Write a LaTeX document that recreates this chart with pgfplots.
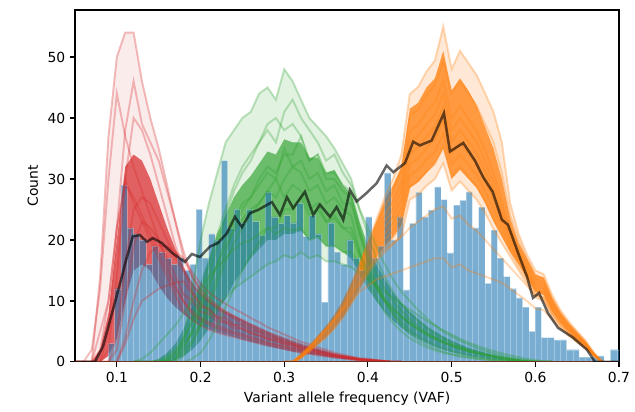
\documentclass[border=0pt]{standalone}
\usepackage{fontspec}
\setmainfont{DejaVu Sans}
\usepackage{pgfplots}
\usepackage{pgfplotstable}
\usepgfplotslibrary{fillbetween}
\pgfplotsset{compat=1.18}

\definecolor{tabred}{HTML}{D62728}
\definecolor{tabgreen}{HTML}{2CA02C}
\definecolor{taborange}{HTML}{FF7F0E}
\definecolor{tabblue}{HTML}{1F77B4}
\definecolor{zeroline}{RGB}{110,50,30}

% histogram: left bin edges and counts
\pgfplotstableread{
x h
0.08975 3
0.09725 12
0.10475 29
0.11225 22
0.11975 21
0.12725 20
0.13475 16
0.14225 19
0.14975 18
0.15725 17
0.16475 16
0.17225 17
0.17975 15
0.18725 16
0.19475 25
0.20225 17
0.20975 21
0.21725 20
0.22475 33
0.23225 22
0.23975 25
0.24725 22.8
0.25475 25
0.26225 23
0.26975 20.8
0.27725 27.9
0.28475 23.8
0.29225 22.7
0.29975 24
0.30725 22.8
0.31475 26
0.32225 20.6
0.32975 24
0.33725 21
0.34475 9.8
0.35225 22.8
0.35975 18
0.36725 16
0.37475 20
0.38225 17
0.38975 15
0.39725 23.8
0.40475 17
0.41225 19
0.41975 31
0.42725 20
0.43475 23.8
0.44225 11.8
0.44975 22.7
0.45725 27.8
0.46475 23.8
0.47225 24.9
0.47975 28.7
0.48725 26.6
0.49475 17.9
0.50225 25.7
0.50975 26.5
0.51725 27.9
0.52475 22
0.53225 25.4
0.53975 12.9
0.54725 21.6
0.55475 17
0.56225 14
0.56975 12
0.57725 10.5
0.58475 9
0.59225 5
0.59975 9
0.60725 4
0.61475 4
0.62225 3.6
0.62975 3.6
0.63725 2
0.64475 2
0.65225 0.8
0.65975 0.8
0.66725 0.8
0.67475 1
0.68225 0
0.68975 2
0.69725 2
0.70475 0
}\histtab

% low-VAF component draws (lo/hi: dense core)
\pgfplotstableread{
x r1 r2 r3 r4 r5 r6 r7 r8 r9 r10 lo hi
0.05 0 0 0 0 0 0 0 0 0 0 0 0
0.06 0 0 0 0 0 0 0 0 0 0 0 0
0.07 0 2 0 0 0 0 0 0 0 0 0 0
0.08 14 12 0 0 5 0 0 0 2 0 0 2
0.09 37 30 5 2 10 0 0 0 10 0 1 8
0.10 50 44 22 14 22 4 2 0 22 0 4 20
0.11 54 37 38 30 30 16 10 4 29 3 10 32
0.12 54 32 46 40 26 25 19 10 27 7 15 34
0.13 46 28 39 38 23 27 23 15 24 10 16 33
0.14 40 24 36 34 20 26 22 18 21 11 15 30
0.15 35 20 33 29 17 23 20 19 18 12 12.5 26
0.16 29 16 28 24 14 20 17 19 15 12.5 10.5 22
0.17 23 12.5 23 19 11 17 14 18 12 13 9 18.5
0.18 17 10 18 15 8.1 15 11 17 9.8 13.2 7.8 15.5
0.19 14 7.8 14 11.5 6.9 12.7 10.1 14.7 8.3 11.2 6.8 13
0.20 12 6.8 11.5 9.6 6.0 11.1 8.2 12.8 7.2 9.0 6 11.2
0.21 10.5 6.1 10 8.4 5.3 9.9 7.9 11.4 6.5 8.8 5.4 10
0.22 9.3 5.5 8.8 7.2 4.8 9.0 6.6 10.4 5.9 7.3 4.9 9
0.23 8.3 5.0 7.9 6.6 4.4 8.2 6.5 9.5 5.4 7.2 4.5 8.2
0.24 7.5 4.6 7.1 6.0 4.1 7.5 5.5 8.7 4.9 6.1 4.1 7.5
0.25 6.7 4.2 6.3 5.4 3.7 6.9 5.5 8.0 4.5 6.0 3.7 6.9
0.26 6.0 3.8 5.6 4.8 3.4 6.2 4.6 7.2 4.1 5.1 3.3 6.2
0.27 5.3 3.4 5.0 4.3 3.0 5.6 4.4 6.5 3.7 4.9 3 5.6
0.28 4.7 3.0 4.4 3.8 2.7 4.9 3.7 5.7 3.2 4.0 2.6 5
0.29 4.1 2.7 3.9 3.4 2.4 4.4 3.5 5.1 2.9 3.8 2.3 4.4
0.30 3.6 2.4 3.4 3.0 2.1 3.9 2.9 4.5 2.6 3.2 2 3.9
0.31 3.1 2.1 2.9 2.6 1.8 3.4 2.7 3.9 2.2 3.0 1.7 3.4
0.32 2.6 1.8 2.5 2.2 1.5 2.9 2.1 3.3 1.9 2.3 1.5 2.9
0.33 2.3 1.5 2.1 1.9 1.3 2.5 2.0 2.9 1.6 2.2 1.3 2.5
0.34 1.9 1.3 1.8 1.6 1.1 2.1 1.5 2.4 1.4 1.7 1.1 2.1
0.35 1.6 1.0 1.4 1.3 0.9 1.7 1.3 2.0 1.1 1.5 0.9 1.7
0.36 1.2 0.8 1.1 1.0 0.7 1.3 1.0 1.5 0.9 1.1 0.7 1.3
0.37 1.0 0.6 0.9 0.8 0.6 1.0 0.8 1.2 0.7 0.9 0.5 1
0.38 0.7 0.5 0.7 0.6 0.4 0.8 0.6 0.9 0.5 0.6 0.4 0.8
0.39 0.5 0.3 0.4 0.4 0.3 0.5 0.4 0.6 0.3 0.5 0.25 0.55
0.40 0.4 0.2 0.3 0.3 0.2 0.4 0.3 0.5 0.3 0.3 0.15 0.4
0.41 0.2 0.2 0.2 0.2 0.1 0.3 0.2 0.3 0.2 0.2 0.1 0.25
0.42 0.1 0.1 0.1 0.1 0.1 0.1 0.1 0.2 0.1 0.1 0.05 0.12
0.43 0 0 0 0 0 0 0 0 0 0 0 0
0.44 0 0 0 0 0 0 0 0 0 0 0 0
}\redtab

% mid-VAF component draws
\pgfplotstableread{
x g1 g2 g3 g4 g5 g6 g7 g8 g9 g10 lo hi
0.12 0 0 0 0 0 0 0 0 0 0 0 0
0.13 0 0 0 0 0 0 0 0 0.5 0 0 0
0.14 0 0 0 0 0 0 0 0 1.5 0 0 0
0.15 0 0 0 0 0 0 0.3 0 3 0 0 0.5
0.16 0 0 0.5 0 0.3 0 1 0 4.5 0.5 0 1.5
0.17 0 0.5 1.5 0 1 0.5 2 0 6 1.5 0.3 3
0.18 4 2 3.5 1 2.5 1.5 4 0 8 3 1 5.5
0.19 12 5 7 3 5 3.5 6.5 0.5 10 4.5 2 9
0.20 20 9 11 6 8.5 6 9.5 1.5 12 6 3.5 13
0.21 26 14 16 10 12 9 13 3.5 14 7.5 5.5 17
0.22 31 19 21 14 16 13 16 6 15.5 9 8 21
0.23 36 24 25 18 20 16.5 19 9 17 10.5 10.5 24
0.24 38 28 29 22 23 19.5 21.5 12 18.5 12 13 27
0.25 40 31 32 25 26 22 23.5 15 19.5 13 15 29
0.26 41 33 34 27 27 24 25 17.5 20 14 17 30.5
0.27 44 36 36 30 29 26 26 19.5 21 15 18.5 32.5
0.28 45 38 39 32 31 28 28 22 22 16 20 34.5
0.29 43 36 40 31 30 27 30 22 21 16.5 20 34
0.30 48 41 38 34 35 30 27 25 22 17.5 21 36.5
0.31 46 43 39 34 32 32 29 25 21.5 17 21 36
0.32 43 40 37 37 33 31 28 27 22 18 21.5 36
0.33 40 38 33 33 30 28 25 24 20 17 20 33.5
0.34 38.5 36 34 34 31 29 26 25 20.5 17.5 20.5 33.5
0.35 37 33 30 31 28 26 23 23 19 16.5 19 31
0.36 35 34 30 31 29 27 24 23.5 19 16.5 19 31.5
0.37 32.5 31 28 29 26 25 22 22 18 16 18 29
0.38 30 29 27 28 26 24 22 21 18 15.5 17 27.5
0.39 25 25 21 22 21 18 18 17.5 16 14.5 14.5 23
0.40 21 22 16 17 17.5 13.5 15 14.5 14 13.5 12 19
0.41 17 19 12.5 13 14.5 10.5 12.5 12 12 12.5 10 16
0.42 14 16 10 10 12 8.2 10.5 10 10 11.5 8.2 13.5
0.43 11.5 13.5 8 7.8 10 6.4 9 8.6 8.6 10.5 6.8 11.3
0.44 9.5 11.5 6.5 6 8.4 5 7.6 7.3 7.4 9.5 5.6 9.6
0.45 8 10 5.2 4.6 7 3.9 6.5 6.2 6.3 8.6 4.6 8.2
0.46 6.8 8.5 4.2 3.6 5.9 3.1 5.5 5.3 5.4 7.7 3.8 7
0.47 5.6 7.2 3.4 2.8 4.9 2.4 4.6 4.4 4.6 6.8 3.1 5.9
0.48 4.7 6 2.7 2.2 4.1 1.9 3.9 3.7 3.9 6 2.5 5
0.49 3.9 5 2.2 1.7 3.4 1.5 3.2 3.1 3.3 5.2 2 4.2
0.50 3.2 4.2 1.8 1.3 2.8 1.2 2.7 2.6 2.8 4.5 1.6 3.5
0.51 2.6 3.5 1.4 1 2.3 0.9 2.2 2.1 2.3 3.8 1.3 2.9
0.52 2.1 2.9 1.1 0.8 1.8 0.7 1.8 1.7 1.9 3.2 1 2.3
0.53 1.7 2.3 0.8 0.6 1.5 0.5 1.4 1.4 1.6 2.7 0.8 1.9
0.54 1.3 1.8 0.6 0.4 1.1 0.4 1.1 1.1 1.3 2.2 0.6 1.5
0.55 1 1.4 0.4 0.3 0.9 0.3 0.8 0.8 1 1.8 0.4 1.1
0.56 0.7 1 0.3 0.2 0.6 0.2 0.6 0.6 0.8 1.4 0.3 0.8
0.57 0.5 0.7 0.2 0.1 0.4 0.1 0.4 0.4 0.6 1.1 0.2 0.55
0.58 0.3 0.4 0.1 0 0.2 0 0.2 0.2 0.4 0.8 0.1 0.35
0.59 0.1 0.2 0 0 0.1 0 0.1 0.1 0.2 0.5 0 0.15
0.60 0 0.1 0 0 0 0 0 0 0.1 0.3 0 0
0.61 0 0 0 0 0 0 0 0 0 0.1 0 0
0.62 0 0 0 0 0 0 0 0 0 0 0 0
}\greentab

% high-VAF component draws
\pgfplotstableread{
x o1 o2 o3 o4 o5 o6 o7 o8 o9 o10 o11 lo hi
0.30 0 0 0 0 0 0 0 0 0 0 0 0 0
0.31 0 0 0 0 0 0 0 0 0 0 0 0 0
0.32 1.3 1.2 1.1 1 0.9 0.8 0.8 0.7 0.6 0.8 0.9 0.7 1.3
0.33 2.6 2.4 2.3 2.2 2.1 2.0 1.9 1.8 1.7 2.5 2.3 1.7 2.7
0.34 4.1 3.9 3.7 3.6 3.5 3.3 3.2 3.0 2.9 4 3.8 2.9 4.3
0.35 5.6 5.4 5.2 5 4.8 4.6 4.4 4.2 4.0 5.5 5.2 4.1 5.9
0.36 7.4 7.1 6.9 6.7 6.5 6.2 6.0 5.7 5.5 7 6.8 5.6 7.8
0.37 9.7 9.3 9.0 8.8 8.5 8.2 7.9 7.6 7.2 8.5 8.8 7.3 10.1
0.38 12.6 12.1 11.8 11.5 11.1 10.7 10.3 9.9 9.4 10 11 9.6 13
0.39 16 15.3 14.9 14.5 14 13.5 13 12.5 11.9 11.5 13 12 16.3
0.40 19.5 18.7 18.1 17.5 16.9 16.3 15.7 15.1 14.4 12.5 15 14.8 19.7
0.41 23.3 22.2 21.3 20.5 19.7 18.9 18.1 17.3 16.5 13.5 17 17.2 23
0.42 27 25.5 24.1 23 22 21 20 19 18 14 18.5 19 26.5
0.43 30 28 26.3 25 23.8 22.6 21.5 20.4 19.2 14.5 19.5 20.5 29
0.44 34 31.4 29.4 28 26.6 25.2 23.8 22.4 20.7 15 20.5 22.5 32
0.45 43.9 40.3 37.8 36 34.2 32.4 30.6 28.8 26.6 15.5 22 28.5 41.5
0.46 45.1 41.4 38.9 37 35.2 33.3 31.5 29.6 27.4 16 23 29.5 42.5
0.47 47.6 43.7 41 39 37 35.1 33.2 31.2 28.9 16.5 24 31 45
0.48 49.4 45.4 42.5 40.5 38.5 36.5 34.4 32.4 30 17 25 32.5 46.5
0.49 55 49.3 46.2 44 41.8 39.6 37.4 35.2 32.6 17 25.5 35 51
0.50 48 44 39.9 38 36.1 34.2 32.3 30.4 28.1 15.5 23.5 30 44.5
0.51 51 46 42 40 38 36 34 32 29.6 16 24 31.5 46.5
0.52 49 44 39.9 38 36.1 34.2 32.3 30.4 28.1 15 22.5 30 44.5
0.53 47 42 37.8 36 34.2 32.4 30.6 28.8 26.6 14.5 21.5 28.5 42
0.54 44 39 34.7 33 31.4 29.7 28 26.4 24.4 14 20 26 38.5
0.55 41 36 31 29.5 28 26.6 25.1 23.6 21.8 13.5 18.5 23 35
0.56 36 31 26.3 25 24 23 22 21 19.5 13 17 20.5 30
0.57 26 24 21.7 21 20.3 19.6 19 18.2 17.3 12 15.5 18 23.5
0.58 21 20 18.6 18 17.4 16.8 16.3 15.6 15 11 14 16 19.5
0.59 17.6 16.8 16 15.5 15 14.5 14 13.4 12.8 10 12.5 13.7 17
0.60 15 14.3 13.6 13 12.5 12 11.6 11.1 10.6 8.8 11 11.5 14.3
0.61 14.4 13.7 13.1 12.5 12 11.5 11 10.5 10 8.5 10.5 11 13.8
0.62 11 10.4 9.9 9.5 9.1 8.7 8.3 7.9 7.5 7 8 8.3 10.5
0.63 8.5 8.1 7.7 7.3 7.0 6.7 6.4 6.1 5.8 5.5 6.2 6.4 8.1
0.64 6.6 6.3 6.0 5.7 5.5 5.2 5.0 4.8 4.5 4.3 4.8 5 6.3
0.65 5.0 4.8 4.5 4.3 4.1 3.9 3.7 3.5 3.3 3.2 3.6 3.7 4.8
0.66 3.5 3.3 3.1 3 2.9 2.8 2.6 2.5 2.3 2.2 2.5 2.6 3.3
0.67 1.5 1.4 1.4 1.3 1.2 1.2 1.1 1.0 1.0 1 1.1 1.1 1.4
0.68 0 0 0 0 0 0 0 0 0 0 0 0 0
}\orangetab

\begin{document}
\begin{tikzpicture}
\begin{axis}[
  at={(0,0)}, anchor=south west,
  scale only axis,
  width=391.7pt, height=253.4pt,
  xmin=0.05, xmax=0.7,
  ymin=0, ymax=57.7,
  xtick={0.1,0.2,0.3,0.4,0.5,0.6,0.7},
  xticklabels={0.1,0.2,0.3,0.4,0.5,0.6,0.7},
  ytick={0,10,20,30,40,50},
  yticklabels={0,10,20,30,40,50},
  tick align=outside,
  tick pos=left,
  major tick length=3.5pt,
  tick style={black, line width=0.8pt},
  axis line style={line width=0.8pt},
  xlabel={Variant allele frequency (VAF)},
  ylabel={Count},
]

% observed VAF histogram
\addplot[ybar interval, fill=tabblue, fill opacity=0.6,
  draw=white, draw opacity=0.3, line width=0.3pt]
  table[x=x, y=h] {\histtab};

% red component: spread of draws, dense core, single draws
\addplot[draw=none, name path=rlo] table[x=x, y=lo] {\redtab};
\addplot[draw=none, name path=rhi] table[x=x, y=hi] {\redtab};
\addplot[draw=none, name path=rtop] table[x=x, y=r1] {\redtab};
\addplot[draw=none, name path=rbot] table[x=x, y=r10] {\redtab};
\addplot[fill=tabred, fill opacity=0.09, draw=none] fill between[of=rtop and rbot];
\addplot[fill=tabred, fill opacity=0.7, draw=none] fill between[of=rlo and rhi];
\pgfplotsinvokeforeach{1,...,10}{
  \addplot[tabred, opacity=0.3, line width=1.4pt] table[x=x, y=r#1] {\redtab};
}

% green component
\addplot[draw=none, name path=glo] table[x=x, y=lo] {\greentab};
\addplot[draw=none, name path=ghi] table[x=x, y=hi] {\greentab};
\addplot[draw=none, name path=gtop] table[x=x, y=g1] {\greentab};
\addplot[draw=none, name path=gbot] table[x=x, y=g10] {\greentab};
\addplot[fill=tabgreen, fill opacity=0.14, draw=none] fill between[of=gtop and gbot];
\addplot[fill=tabgreen, fill opacity=0.65, draw=none] fill between[of=glo and ghi];
\pgfplotsinvokeforeach{1,...,10}{
  \addplot[tabgreen, opacity=0.3, line width=1.4pt] table[x=x, y=g#1] {\greentab};
}

% orange component
\addplot[draw=none, name path=olo] table[x=x, y=lo] {\orangetab};
\addplot[draw=none, name path=ohi] table[x=x, y=hi] {\orangetab};
\addplot[draw=none, name path=otop] table[x=x, y=o1] {\orangetab};
\addplot[draw=none, name path=obot] table[x=x, y=o9] {\orangetab};
\addplot[fill=taborange, fill opacity=0.17, draw=none] fill between[of=otop and obot];
\addplot[fill=taborange, fill opacity=0.75, draw=none] fill between[of=olo and ohi];
\pgfplotsinvokeforeach{1,...,11}{
  \addplot[taborange, opacity=0.3, line width=1.4pt] table[x=x, y=o#1] {\orangetab};
}

% zero baseline where all draws overlap
\addplot[zeroline, line width=1.2pt] coordinates {(0.05,0) (0.7,0)};

% total mean
\addplot[black, opacity=0.6, line width=1.8pt] coordinates {
(0.05,0) (0.0737,0) (0.0833,2.5) (0.0976,9.7) (0.1072,14.6) (0.1096,16)
(0.1191,20.6) (0.1275,20.8) (0.1359,19.7) (0.143,20.3) (0.1538,19.5)
(0.1657,17.9) (0.1813,16.4) (0.1896,17.7) (0.1992,17.2) (0.2111,18.9)
(0.2207,19.5) (0.2315,21.1) (0.241,23.8) (0.2494,22.1) (0.259,24.4)
(0.2685,24.9) (0.2853,26.2) (0.2948,24.1) (0.3032,27) (0.3107,25.2)
(0.3247,27.9) (0.3347,24.1) (0.3426,25.8) (0.3546,23.8) (0.3626,25.4)
(0.3705,23.3) (0.3785,28.2) (0.3865,26.3) (0.3984,27.7) (0.4104,29.3)
(0.4223,32.2) (0.4303,31.1) (0.4442,32.6) (0.4541,36.1) (0.4621,35.5)
(0.4761,36.3) (0.4908,40.8) (0.498,34.5) (0.5139,35.9) (0.5279,33)
(0.5376,30.3) (0.549,27.9) (0.5601,23.3) (0.5673,22.5) (0.5793,17.9)
(0.59,14) (0.5972,10.5) (0.6044,11.3) (0.6151,8) (0.6271,5.6)
(0.645,4) (0.6617,2) (0.6713,0) (0.7,0)
};
\end{axis}
\path (-54pt,-36pt) rectangle (403.2pt,260.6pt);
\end{tikzpicture}
\end{document}
